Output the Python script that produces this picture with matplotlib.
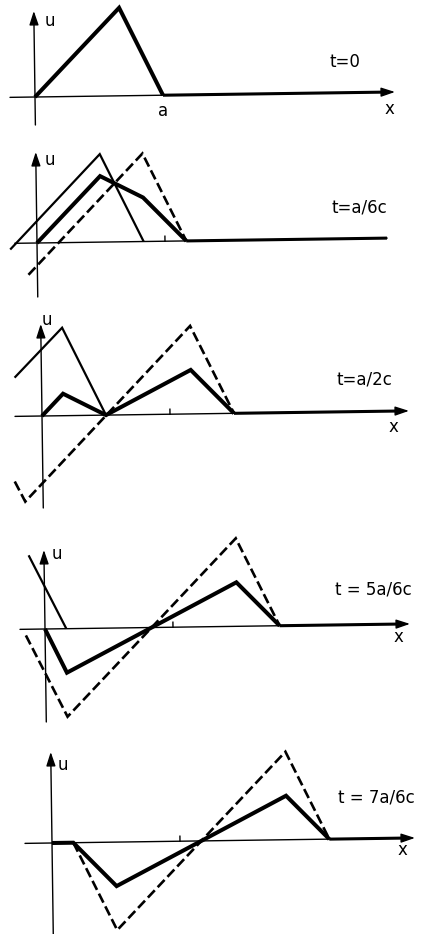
import matplotlib
matplotlib.use("Agg")
import matplotlib.pyplot as plt
from matplotlib.transforms import Affine2D

FIG_W, FIG_H, DPI = 422, 934, 100

# Snapshots of a triangular pulse on a string fixed at x = 0.
# x is measured in units of a, u in units of the initial peak height.
# "u"     : resulting displacement on x >= 0 (heavy line)
# "left"  : wave travelling to the left, odd extension (thin line)
# "right" : wave travelling to the right, odd extension (dashed line)
time_labels = ["t=0", "t=a/6c", "t=a/2c", "t = 5a/6c", "t = 7a/6c"]

u0_x = [0, 2/3, 1]
u0_y = [0, 1, 0]

u1_x = [0, 1/2, 5/6, 7/6]
u1_y = [0, 0.75, 0.5, 0]
left1_x = [-0.21, 1/2, 5/6]
left1_y = [-0.07, 1, 0]
right1_x = [-0.07, 5/6, 7/6]
right1_y = [-0.36, 1, 0]

u2_x = [0, 1/6, 1/2, 7/6, 3/2]
u2_y = [0, 0.25, 0, 0.5, 0]
left2_x = [-0.21, 1/6, 1/2]
left2_y = [0.44, 1, 0]
right2_x = [-0.22, -0.14, 7/6, 3/2]
right2_y = [-0.74, -0.97, 1.0, 0]

u3_x = [0, 1/6, 3/2, 11/6]
u3_y = [0, -0.5, 0.5, 0]
left3_x = [-0.12, 1/6]
left3_y = [0.84, 0]
right3_x = [-0.15, 1/6, 3/2, 11/6]
right3_y = [-0.07, -1.0, 1.0, 0]

u4_x = [0, 1/6, 1/2, 11/6, 13/6]
u4_y = [0, 0, -0.5, 0.5, 0]
right4_x = [1/6, 1/2, 11/6, 13/6]
right4_y = [0, -1, 1, 0]

panels = [
    dict(u=(u0_x, u0_y), left=None, right=None),
    dict(u=(u1_x, u1_y), left=(left1_x, left1_y), right=(right1_x, right1_y)),
    dict(u=(u2_x, u2_y), left=(left2_x, left2_y), right=(right2_x, right2_y)),
    dict(u=(u3_x, u3_y), left=(left3_x, left3_y), right=(right3_x, right3_y)),
    dict(u=(u4_x, u4_y), left=None, right=(right4_x, right4_y)),
]

# page layout in pixels (from the top-left corner)
A_PX = 128.0     # length a
P_PX = 88.0      # peak height
TILT = 0.8       # degrees, the drawing sits slightly askew on the page
layout = [
    dict(origin=(35, 97), y_top=11, y_bot=125, x_left=10, x_right=395, arrow=True,
         u_pos=(50, 21), t_pos=(345, 62), x_pos=(389, 109), a_pos=(163, 111)),
    dict(origin=(37, 243), y_top=152, y_bot=297, x_left=15, x_right=387, arrow=False,
         u_pos=(50, 160), t_pos=(359, 207), x_pos=None, a_pos=None),
    dict(origin=(42, 416), y_top=324, y_bot=508, x_left=15, x_right=409, arrow=True,
         u_pos=(47, 320), t_pos=(364, 380), x_pos=(393, 427), a_pos=None),
    dict(origin=(45, 629), y_top=550, y_bot=722, x_left=20, x_right=410, arrow=True,
         u_pos=(57, 554), t_pos=(373, 590), x_pos=(398, 637), a_pos=None),
    dict(origin=(52, 843), y_top=752, y_bot=934, x_left=25, x_right=415, arrow=True,
         u_pos=(63, 765), t_pos=(376, 798), x_pos=(402, 850), a_pos=None),
]

LW_AXIS = 1.0
LW_THIN = 1.6
LW_DASH = 1.9
LW_HEAVY = 2.9
DASHES = (0, (3.8, 1.6))
FONT = dict(family="DejaVu Sans", size=12, color="black")

fig = plt.figure(figsize=(FIG_W / DPI, FIG_H / DPI), dpi=DPI)
fig.patch.set_facecolor("white")


def fig_text(pos, s, **kw):
    fig.text(pos[0] / FIG_W, 1 - pos[1] / FIG_H, s, ha="center", va="center", **FONT, **kw)


for i, (panel, lay) in enumerate(zip(panels, layout)):
    ox, oy = lay["origin"]
    ax = fig.add_axes([0, 0, 1, 1])
    ax.set_xlim(-ox / A_PX, (FIG_W - ox) / A_PX)
    ax.set_ylim(-(FIG_H - oy) / P_PX, oy / P_PX)
    ax.axis("off")
    ax.patch.set_alpha(0)

    tr = ax.transData + Affine2D().rotate_deg_around(ox, FIG_H - oy, TILT)

    def px_x(p):
        return (p - ox) / A_PX

    def px_y(p):
        return (oy - p) / P_PX

    # coordinate axes
    arrow = dict(arrowstyle="-|>,head_length=0.6,head_width=0.2", lw=LW_AXIS,
                 color="black", mutation_scale=14, shrinkA=0, shrinkB=0)
    ax.annotate("", xy=(0, px_y(lay["y_top"])), xytext=(0, px_y(lay["y_bot"])),
                xycoords=tr, textcoords=tr, arrowprops=arrow, annotation_clip=False)
    x_end = px_x(lay["x_right"])
    if lay["arrow"]:
        ax.annotate("", xy=(x_end, 0), xytext=(px_x(lay["x_left"]), 0),
                    xycoords=tr, textcoords=tr, arrowprops=arrow, annotation_clip=False)
        x_end -= 8 / A_PX
    else:
        ax.plot([px_x(lay["x_left"]), x_end], [0, 0], color="black", lw=LW_AXIS,
                transform=tr)

    # small mark at x = a
    if i > 0:
        ax.plot([1, 1], [0, 5 / P_PX], color="black", lw=1.0, transform=tr)

    if panel["left"] is not None:
        ax.plot(*panel["left"], color="black", lw=LW_THIN, solid_joinstyle="miter",
                solid_capstyle="butt", transform=tr, clip_on=False)
    if panel["right"] is not None:
        ax.plot(*panel["right"], color="black", lw=LW_DASH, linestyle=DASHES,
                dash_capstyle="butt", dash_joinstyle="miter", transform=tr, clip_on=False)

    ux, uy = panel["u"]
    ax.plot(ux, uy, color="black", lw=LW_HEAVY, solid_joinstyle="miter",
            solid_capstyle="butt", transform=tr, clip_on=False)
    ax.plot([ux[-1], x_end], [0, 0], color="black", lw=2.2, solid_capstyle="butt",
            transform=tr)

    fig_text(lay["u_pos"], "u")
    fig_text(lay["t_pos"], time_labels[i])
    if lay["x_pos"] is not None:
        fig_text(lay["x_pos"], "x")
    if lay["a_pos"] is not None:
        fig_text(lay["a_pos"], "a")

fig.savefig("out.png", dpi=DPI, facecolor="white")
